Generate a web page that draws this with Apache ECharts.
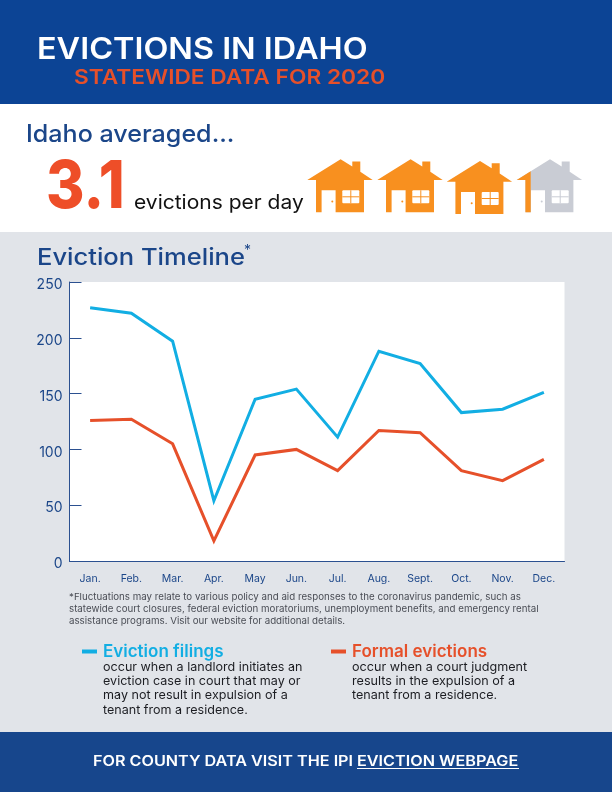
<!DOCTYPE html>
<html>
<head>
    <meta charset="utf-8">
    <title>Evictions in Idaho</title>
    <script src="https://cdn.jsdelivr.net/npm/echarts@6/dist/echarts.min.js"></script>
    <style>
        html, body { margin: 0; padding: 0; background: #e1e4e9; }
        #mainChart { width: 612px; height: 792px; }
    </style>
</head>
<body>
<div id="mainChart"></div>

<script>
// data
const months = ['Jan.', 'Feb.', 'Mar.', 'Apr.', 'May', 'Jun.', 'Jul.', 'Aug.', 'Sept.', 'Oct.', 'Nov.', 'Dec.'];
const filings = [227, 222, 197, 54, 145, 154, 111, 188, 177, 133, 136, 151];
const formal = [126, 127, 105, 18, 95, 100, 81, 117, 115, 81, 72, 91];

const footnote = [
    '*Fluctuations may relate to various policy and aid responses to the coronavirus pandemic, such as',
    'statewide court closures, federal eviction moratoriums, unemployment benefits, and emergency rental',
    'assistance programs. Visit our website for additional details.'
];
const filingsNote = [
    'occur when a landlord initiates an',
    'eviction case in court that may or',
    'may not result in expulsion of a',
    'tenant from a residence.'
];
const formalNote = [
    'occur when a court judgment',
    'results in the expulsion of a',
    'tenant from a residence.'
];

const FONT = 'Inter';
const NAVY = '#1b4689';
const ORANGE = '#f8901f';
const GREY_HOUSE = '#c9ccd4';
const RED = '#e6502a';
const CYAN = '#12aee3';

// plain text helper for graphic elements, sx stretches the text to the wider look of the original face
function label(text, x, y, size, color, weight, sx) {
    return {
        type: 'text', x: x, y: y, scaleX: sx || 1,
        style: {
            text: text, fill: color, font: (weight || 400) + ' ' + size + 'px ' + FONT,
            textAlign: 'left', textVerticalAlign: 'middle'
        }
    };
}

// house icon, local box is 65 x 53
const houseBody = [[33.3, 0], [45, 7.2], [45, 2.3], [53, 2.3], [53, 12.4], [65.4, 20.7], [56.7, 20.7], [56.7, 53],
    [28.3, 53], [28.3, 31], [14.3, 31], [14.3, 53], [8.7, 53], [8.7, 20.7], [0, 20.7]];
const houseSliver = [[0, 20.7], [14, 12], [14, 53], [8.7, 53], [8.7, 20.7]];

function house(x, y, color, sliver) {
    const children = [
        { type: 'polygon', shape: { points: houseBody }, style: { fill: color } },
        { type: 'rect', shape: { x: 35, y: 31, width: 17, height: 13, r: 1 }, style: { fill: '#fff' } },
        { type: 'rect', shape: { x: 43, y: 31, width: 1, height: 13 }, style: { fill: color } },
        { type: 'rect', shape: { x: 35, y: 37, width: 17, height: 1 }, style: { fill: color } },
        { type: 'circle', shape: { cx: 25, cy: 42.3, r: 1 }, style: { fill: color } }
    ];
    if (sliver) {
        children.push({ type: 'polygon', shape: { points: houseSliver }, style: { fill: sliver } });
    }
    return { type: 'group', x: x, y: y, children: children };
}

function lines(list, x, y, step, size, color, weight, sx) {
    return list.map((t, i) => label(t, x, y + i * step, size, color, weight, sx));
}

const chart = echarts.init(document.getElementById('mainChart'));

chart.setOption({
    backgroundColor: '#e1e4e9',
    animation: false,
    textStyle: { fontFamily: FONT },
    grid: {
        left: 69.5, top: 282, width: 495, height: 279,
        show: true, backgroundColor: '#fff', borderWidth: 0
    },
    xAxis: {
        type: 'category',
        data: months,
        boundaryGap: true,
        axisLine: { lineStyle: { color: '#2b5090', width: 1 } },
        axisTick: { inside: true, length: 7, lineStyle: { color: '#2b5090', width: 1 } },
        axisLabel: { color: NAVY, fontSize: 10.5, margin: 12, interval: 0 }
    },
    yAxis: {
        type: 'value',
        min: 0, max: 250, interval: 50,
        splitLine: { show: false },
        axisLine: { show: true, lineStyle: { color: '#2b5090', width: 1 } },
        axisTick: { show: true, inside: true, length: 12, lineStyle: { color: '#2b5090', width: 1 } },
        // labels sit a little below their ticks in the original
        axisLabel: { color: NAVY, fontSize: 14, margin: 7, verticalAlign: 'top', lineHeight: 6 }
    },
    legend: [
        {
            data: ['Eviction filings'], left: 82, top: 643, icon: 'rect',
            itemWidth: 15, itemHeight: 4, itemGap: 0, padding: 0,
            textStyle: { color: CYAN, fontSize: 17, fontWeight: 600, fontFamily: FONT, padding: [0, 0, 0, 1] }
        },
        {
            data: ['Formal evictions'], left: 331, top: 643, icon: 'rect',
            itemWidth: 15, itemHeight: 4, itemGap: 0, padding: 0,
            textStyle: { color: RED, fontSize: 17, fontWeight: 600, fontFamily: FONT, padding: [0, 0, 0, 1] }
        }
    ],
    series: [
        {
            name: 'Eviction filings', type: 'line', data: filings, symbol: 'none',
            lineStyle: { color: CYAN, width: 3, cap: 'butt', join: 'miter' },
            itemStyle: { color: CYAN }
        },
        {
            name: 'Formal evictions', type: 'line', data: formal, symbol: 'none',
            lineStyle: { color: RED, width: 3, cap: 'butt', join: 'miter' },
            itemStyle: { color: RED }
        }
    ],
    graphic: [
        { type: 'rect', shape: { x: 0, y: 0, width: 612, height: 104 }, style: { fill: '#0c4495' } },
        { type: 'rect', shape: { x: 0, y: 104, width: 612, height: 128 }, style: { fill: '#fff' } },
        { type: 'rect', shape: { x: 0, y: 732, width: 612, height: 60 }, style: { fill: '#17468c' } },
        label('EVICTIONS IN IDAHO', 37, 50, 30, '#fff', 600, 1.08),
        label('STATEWIDE DATA FOR 2020', 74, 78, 20, RED, 600, 1.135),
        label('Idaho averaged...', 26, 135, 24, NAVY, 500, 1.045),
        label('3.1', 46, 188, 66, '#ee4e28', 800, 0.89),
        label('evictions per day', 134, 203, 20, '#111', 400, 1.05),
        house(307.3, 159.3, ORANGE),
        house(377.3, 159.3, ORANGE),
        house(446.7, 161, ORANGE),
        house(516.7, 159.3, GREY_HOUSE, ORANGE),
        label('Eviction Timeline', 37, 258, 23, NAVY, 500, 1.11),
        label('*', 244, 251, 14, NAVY, 400),
        ...lines(footnote, 69, 597.5, 12, 9.4, '#4a4d55', 400, 1.038),
        ...lines(filingsNote, 103, 667, 14.4, 12, '#1c1d22', 400, 1.047),
        ...lines(formalNote, 352, 667, 14.4, 12, '#1c1d22', 400, 1.05),
        label('FOR COUNTY DATA VISIT THE IPI', 93, 761.5, 14, '#fff', 600, 1.155),
        label('EVICTION WEBPAGE', 357, 761.5, 14, '#fff', 600, 1.157),
        { type: 'line', shape: { x1: 357, y1: 768.5, x2: 519, y2: 768.5 }, style: { stroke: '#fff', lineWidth: 1 } }
    ]
});
</script>
</body>
</html>
